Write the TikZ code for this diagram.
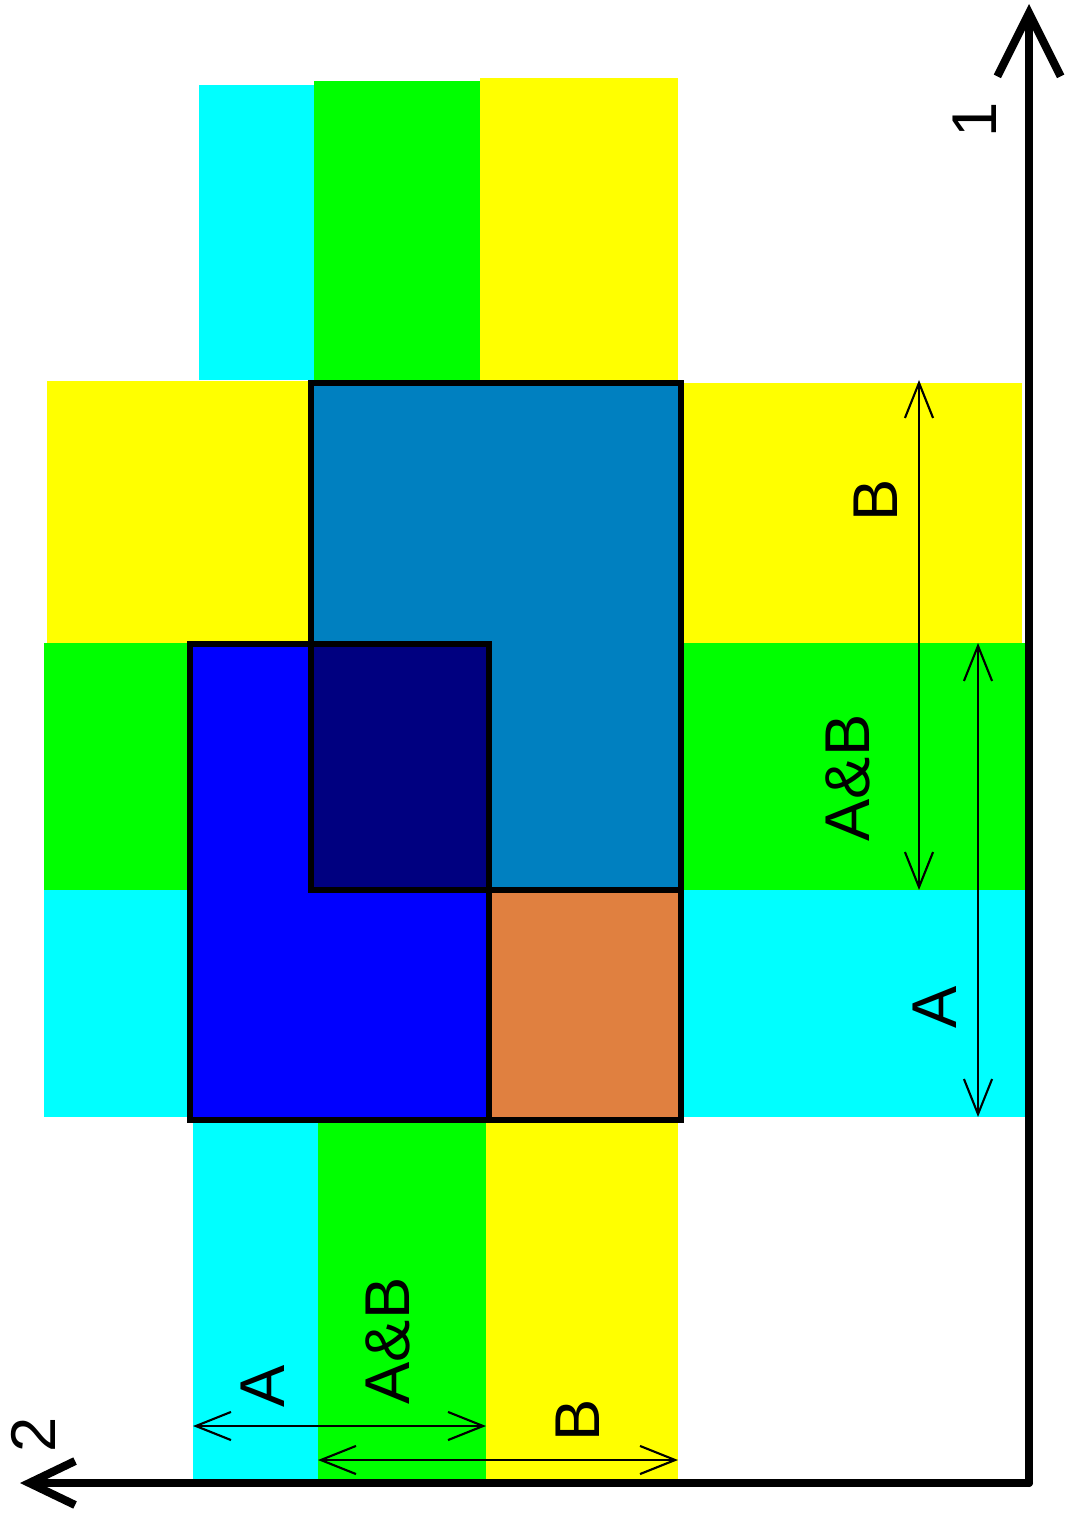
\documentclass[tikz,border=0pt]{standalone}
\usepackage{fontspec}
\setmainfont{Liberation Sans}
\usetikzlibrary{arrows.meta}
\definecolor{cyanband}{HTML}{00FFFF}
\definecolor{greenband}{HTML}{00FF00}
\definecolor{yellowband}{HTML}{FFFF00}
\definecolor{setB}{HTML}{0080C0}
\definecolor{setA}{HTML}{0000FF}
\definecolor{setAB}{HTML}{000080}
\definecolor{rest}{HTML}{E08040}
\begin{document}
\begin{tikzpicture}[x=0.01cm, y=-0.01cm,
    lbl/.style={rotate=90, inner sep=0pt, font=\fontsize{18}{18}\selectfont},
    edge/.style={draw=black, line width=1.7pt},
    dim/.style={line width=0.6pt, {Straight Barb[length=10pt,width=8pt]}-{Straight Barb[length=10pt,width=8pt]}},
    axis/.style={line width=2.3pt, line cap=round}]
\useasboundingbox (0,0) rectangle (1064,1513);
\fill[cyanband] (199,85) rectangle (314,380);
\fill[greenband] (314,81) rectangle (480,380);
\fill[yellowband] (480,78) rectangle (678,380);
\fill[yellowband] (47,381) rectangle (311,643);
\fill[greenband] (44,643) rectangle (190,890);
\fill[cyanband] (44,890) rectangle (190,1117);
\fill[yellowband] (681,383) rectangle (1022,643);
\fill[greenband] (681,643) rectangle (1025,890);
\fill[cyanband] (681,890) rectangle (1027,1117);
\fill[cyanband] (193,1120) rectangle (318,1484);
\fill[greenband] (318,1120) rectangle (486,1481);
\fill[yellowband] (486,1120) rectangle (678,1481);
\fill[setB] (311,383) rectangle (681,890);
\fill[setA] (190,644) rectangle (489,1120);
\fill[setAB] (311,644) rectangle (489,890);
\fill[rest] (489,890) rectangle (681,1120);
\draw[edge] (311,383) rectangle (681,890);
\draw[edge] (190,644) rectangle (489,1120);
\draw[edge] (489,890) rectangle (681,1120);
\coordinate (o) at (1029,1483);
\coordinate (e1) at (1029,4);
\coordinate (e2) at (20,1483);
\draw[axis, -{Straight Barb[length=18pt,width=18pt]}] (o) -- (e1);
\draw[axis, -{Straight Barb[length=13pt,width=12.5pt]}] (o) -- (e2);
\node[lbl] (ax1) at (975,120) {1};
\node[lbl] (ax2) at (33,1435) {2};
\coordinate (bTop) at (919,380);
\coordinate (bBot) at (919,890);
\coordinate (aTop) at (978,643);
\coordinate (aBot) at (978,1117);
\coordinate (aLeft) at (193,1426);
\coordinate (aRight) at (486,1426);
\coordinate (bLeft) at (318,1460);
\coordinate (bRight) at (678,1460);
\draw[dim] (bTop) -- (bBot);
\draw[dim] (aTop) -- (aBot);
\draw[dim] (aLeft) -- (aRight);
\draw[dim] (bLeft) -- (bRight);
\node[lbl] (rB) at (876,500) {B};
\node[lbl] (rAB) at (848,778) {A\&B};
\node[lbl] (rA) at (935,1007) {A};
\node[lbl] (bA) at (263,1386) {A};
\node[lbl] (bAB) at (388,1341) {A\&B};
\node[lbl] (bB) at (578,1420) {B};
\end{tikzpicture}
\end{document}
